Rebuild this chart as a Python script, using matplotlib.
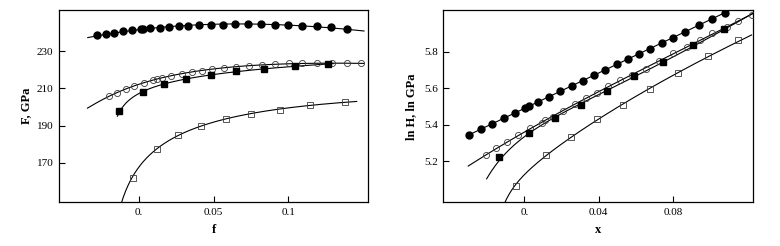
import numpy as np
import matplotlib
matplotlib.use("Agg")
import matplotlib.pyplot as plt

plt.rcParams['font.family'] = ['Liberation Serif', 'DejaVu Serif']

# ---- left panel: F vs f ----
f_fc = [-0.0279, -0.0223, -0.0168, -0.0107, -0.0047, 0.0013, 0.0027, 0.0076, 0.0139, 0.0201, 0.0266, 0.0331,
        0.0401, 0.0479, 0.0562, 0.0644, 0.0730, 0.0819, 0.0909, 0.1000, 0.1094, 0.1191, 0.1287, 0.1392]
F_fc = [238.8, 239.4, 239.9, 240.8, 241.4, 241.9, 241.9, 242.4, 242.6, 243.2, 243.5, 243.7,
        244.2, 244.2, 244.2, 244.6, 244.6, 244.6, 244.2, 244.0, 243.7, 243.5, 243.0, 241.9]

f_oc = [-0.0201, -0.0148, -0.0089, -0.0031, 0.0030, 0.0094, 0.0117, 0.0157, 0.0217, 0.0285, 0.0352, 0.0419,
        0.0490, 0.0568, 0.0649, 0.0735, 0.0821, 0.0911, 0.1005, 0.1094, 0.1191, 0.1291, 0.1392, 0.1488]
F_oc = [205.9, 207.7, 209.7, 211.3, 213.1, 214.5, 215.3, 215.8, 216.7, 218.0, 218.8, 219.4,
        220.3, 221.0, 221.5, 222.1, 222.6, 223.0, 223.4, 223.7, 223.9, 223.9, 223.4, 223.4]

f_fs = [-0.0134, 0.0027, 0.0168, 0.0318, 0.0479, 0.0651, 0.0839, 0.1045, 0.1268]
F_fs = [197.7, 208.1, 212.4, 215.1, 217.2, 219.2, 220.5, 222.1, 223.0]

f_os = [-0.0044, 0.0117, 0.0262, 0.0414, 0.0580, 0.0753, 0.0946, 0.1149, 0.1383]
F_os = [162.1, 177.7, 184.9, 189.7, 193.7, 196.2, 198.6, 201.1, 202.6]

# fitted curves: end points
fc_ends_f = [-0.0344, 0.1508]
fc_ends_F = [237.2, 240.8]
oc_ends_f = [-0.0346, 0.1508]
oc_ends_F = [199.4, 223.4]
fs_ends_f = [-0.0145, 0.1300]
fs_ends_F = [195.0, 223.3]
os_ends_f = [-0.0118, 0.1459]
os_ends_F = [148.5, 203.0]

# ---- right panel: ln H vs x ----
x_fc = [-0.0295, -0.0233, -0.0172, -0.0111, -0.0050, 0.0005, 0.0027, 0.0072, 0.0133, 0.0193, 0.0254, 0.0313,
        0.0374, 0.0433, 0.0496, 0.0555, 0.0614, 0.0675, 0.0738, 0.0797, 0.0863, 0.0940, 0.1008, 0.1078]
H_fc = [5.346, 5.377, 5.406, 5.435, 5.464, 5.492, 5.503, 5.525, 5.554, 5.583, 5.612, 5.641,
        5.671, 5.700, 5.731, 5.760, 5.787, 5.816, 5.848, 5.877, 5.909, 5.946, 5.979, 6.013]

x_oc = [-0.0206, -0.0152, -0.0091, -0.0032, 0.0031, 0.0093, 0.0111, 0.0156, 0.0209, 0.0272, 0.0331, 0.0389,
        0.0451, 0.0514, 0.0580, 0.0652, 0.0725, 0.0800, 0.0872, 0.0943, 0.1011, 0.1087, 0.1149, 0.1221]
H_oc = [5.235, 5.271, 5.307, 5.344, 5.381, 5.411, 5.426, 5.444, 5.477, 5.514, 5.545, 5.576,
        5.612, 5.645, 5.672, 5.705, 5.747, 5.791, 5.824, 5.864, 5.901, 5.937, 5.970, 6.003]

x_fs = [-0.0134, 0.0027, 0.0163, 0.0304, 0.0446, 0.0591, 0.0745, 0.0906, 0.1071]
H_fs = [5.225, 5.353, 5.435, 5.508, 5.587, 5.667, 5.745, 5.837, 5.924]

x_os = [-0.0045, 0.0115, 0.0251, 0.0392, 0.0530, 0.0675, 0.0827, 0.0985, 0.1149]
H_os = [5.067, 5.235, 5.335, 5.430, 5.507, 5.594, 5.685, 5.776, 5.864]

rfc_ends_x = [-0.0295, 0.1110]
rfc_ends_H = [5.346, 6.030]
roc_ends_x = [-0.0301, 0.1230]
roc_ends_H = [5.174, 6.010]
rfs_ends_x = [-0.0202, 0.1230]
rfs_ends_H = [5.103, 6.010]
ros_ends_x = [-0.0104, 0.1221]
ros_ends_H = [4.975, 5.891]


def fit_curve(xd, yd, xe, ye, shift=None, deg=3):
    # smooth fit through the data plus the curve ends
    xx = np.array(list(xd) + list(xe))
    yy = np.array(list(yd) + list(ye))
    w = np.ones(len(xx))
    w[-2:] = 3
    xs = np.linspace(min(xe), max(xe), 300)
    if shift is None:
        p = np.polyfit(xx, yy, deg, w=w)
        return xs, np.polyval(p, xs)
    p = np.polyfit(np.log(xx + shift), yy, deg, w=w)
    return xs, np.polyval(p, np.log(xs + shift))


fig = plt.figure(figsize=(7.8, 2.46), dpi=100)
ax1 = fig.add_axes([0.0756, 0.177, 0.3966, 0.782])
ax2 = fig.add_axes([0.5683, 0.177, 0.3974, 0.782])

lw = 0.8
edge = '#3a3a3a'

# left
for xd, yd, xe, ye, sh in [(f_fc, F_fc, fc_ends_f, fc_ends_F, None),
                           (f_oc, F_oc, oc_ends_f, oc_ends_F, 0.06),
                           (f_fs, F_fs, fs_ends_f, fs_ends_F, 0.02),
                           (f_os, F_os, os_ends_f, os_ends_F, 0.02)]:
    xs, ys = fit_curve(xd, yd, xe, ye, sh)
    ax1.plot(xs, ys, color='black', lw=lw, zorder=2)

ax1.plot(f_fc, F_fc, 'o', ms=5.0, color='black', zorder=3)
ax1.plot(f_oc, F_oc, 'o', ms=4.4, mfc='none', mec=edge, mew=0.6, zorder=3)
ax1.plot(f_fs, F_fs, 's', ms=4.2, color='black', zorder=3)
ax1.plot(f_os, F_os, 's', ms=4.0, mfc='none', mec=edge, mew=0.6, zorder=3)

ax1.set_xlim(-0.0537, 0.1537)
ax1.set_ylim(148.7, 252.1)
ax1.set_xticks([0, 0.05, 0.1])
ax1.set_xticklabels(['0.', '0.05', '0.1'])
ax1.set_yticks([170, 190, 210, 230])
ax1.set_xlabel('f', fontweight='bold', fontsize=9, labelpad=5)
ax1.set_ylabel('F, GPa', fontweight='bold', fontsize=9, labelpad=3)

# right
for xd, yd, xe, ye, sh in [(x_fc, H_fc, rfc_ends_x, rfc_ends_H, None),
                           (x_oc, H_oc, roc_ends_x, roc_ends_H, None),
                           (x_fs, H_fs, rfs_ends_x, rfs_ends_H, 0.06),
                           (x_os, H_os, ros_ends_x, ros_ends_H, 0.02)]:
    xs, ys = fit_curve(xd, yd, xe, ye, sh)
    ax2.plot(xs, ys, color='black', lw=lw, zorder=2)

ax2.plot(x_fc, H_fc, 'o', ms=5.0, color='black', zorder=3)
ax2.plot(x_oc, H_oc, 'o', ms=4.4, mfc='none', mec=edge, mew=0.6, zorder=3)
ax2.plot(x_fs, H_fs, 's', ms=4.2, color='black', zorder=3)
ax2.plot(x_os, H_os, 's', ms=4.0, mfc='none', mec=edge, mew=0.6, zorder=3)

ax2.set_xlim(-0.0435, 0.1230)
ax2.set_ylim(4.975, 6.028)
ax2.set_xticks([0, 0.04, 0.08])
ax2.set_xticklabels(['0.', '0.04', '0.08'])
ax2.set_yticks([5.2, 5.4, 5.6, 5.8])
ax2.set_xlabel('x', fontweight='bold', fontsize=9, labelpad=5)
ax2.set_ylabel('ln H, ln GPa', fontweight='bold', fontsize=9, labelpad=5)

for ax in (ax1, ax2):
    for s in ax.spines.values():
        s.set_linewidth(0.9)
    ax.tick_params(direction='in', length=4, width=0.8, labelsize=8, pad=4,
                   top=False, right=False)

fig.savefig('out.png', dpi=100)
